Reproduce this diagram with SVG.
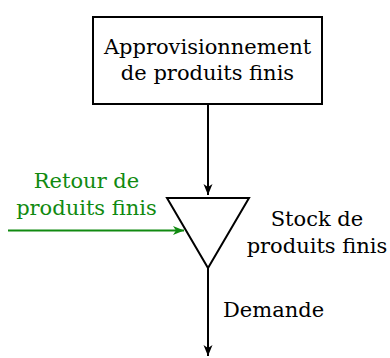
<svg xmlns="http://www.w3.org/2000/svg" width="390" height="358" viewBox="0 0 390 358">
<style>
text{font-family:"DejaVu Serif",serif;font-size:21px;}
.blk{fill:#000;}
.grn{fill:#108a10;}
.ln{stroke:#000;stroke-width:2;fill:none;}
.gln{stroke:#108a10;stroke-width:2;fill:none;}
</style>
<defs>
<marker id="ab" markerUnits="userSpaceOnUse" markerWidth="12" markerHeight="12" viewBox="-11 -5 12 10" refX="0" refY="0" orient="auto">
<path d="M0,0 L-11,-4.5 L-8,0 L-11,4.5 Z" fill="#000"/>
</marker>
<marker id="ag" markerUnits="userSpaceOnUse" markerWidth="12" markerHeight="12" viewBox="-11 -5 12 10" refX="0" refY="0" orient="auto">
<path d="M0,0 L-11,-4.5 L-8,0 L-11,4.5 Z" fill="#108a10"/>
</marker>
</defs>
<g id="supply">
<rect x="93" y="17" width="229" height="87" fill="#fff" stroke="#000" stroke-width="2"/>
<text x="207.5" y="54" text-anchor="middle" class="blk">Approvisionnement</text>
<text x="207.5" y="80" text-anchor="middle" class="blk">de produits finis</text>
</g>
<g id="stock">
<polygon points="167,198 249,198 208,268" fill="#fff" stroke="#000" stroke-width="2"/>
<text x="317" y="226" text-anchor="middle" class="blk">Stock de</text>
<text x="317" y="253" text-anchor="middle" class="blk">produits finis</text>
</g>
<g id="return">
<text x="86.5" y="188" text-anchor="middle" class="grn">Retour de</text>
<text x="86.5" y="215" text-anchor="middle" class="grn">produits finis</text>
</g>
<g id="demand">
<text x="223" y="317" class="blk">Demande</text>
</g>
<g id="connectors">
<line x1="208" y1="104" x2="208" y2="195" class="ln" marker-end="url(#ab)"/>
<line x1="8" y1="230.5" x2="184" y2="230.5" class="gln" marker-end="url(#ag)"/>
<line x1="208" y1="268" x2="208" y2="356" class="ln" marker-end="url(#ab)"/>
</g>
</svg>
